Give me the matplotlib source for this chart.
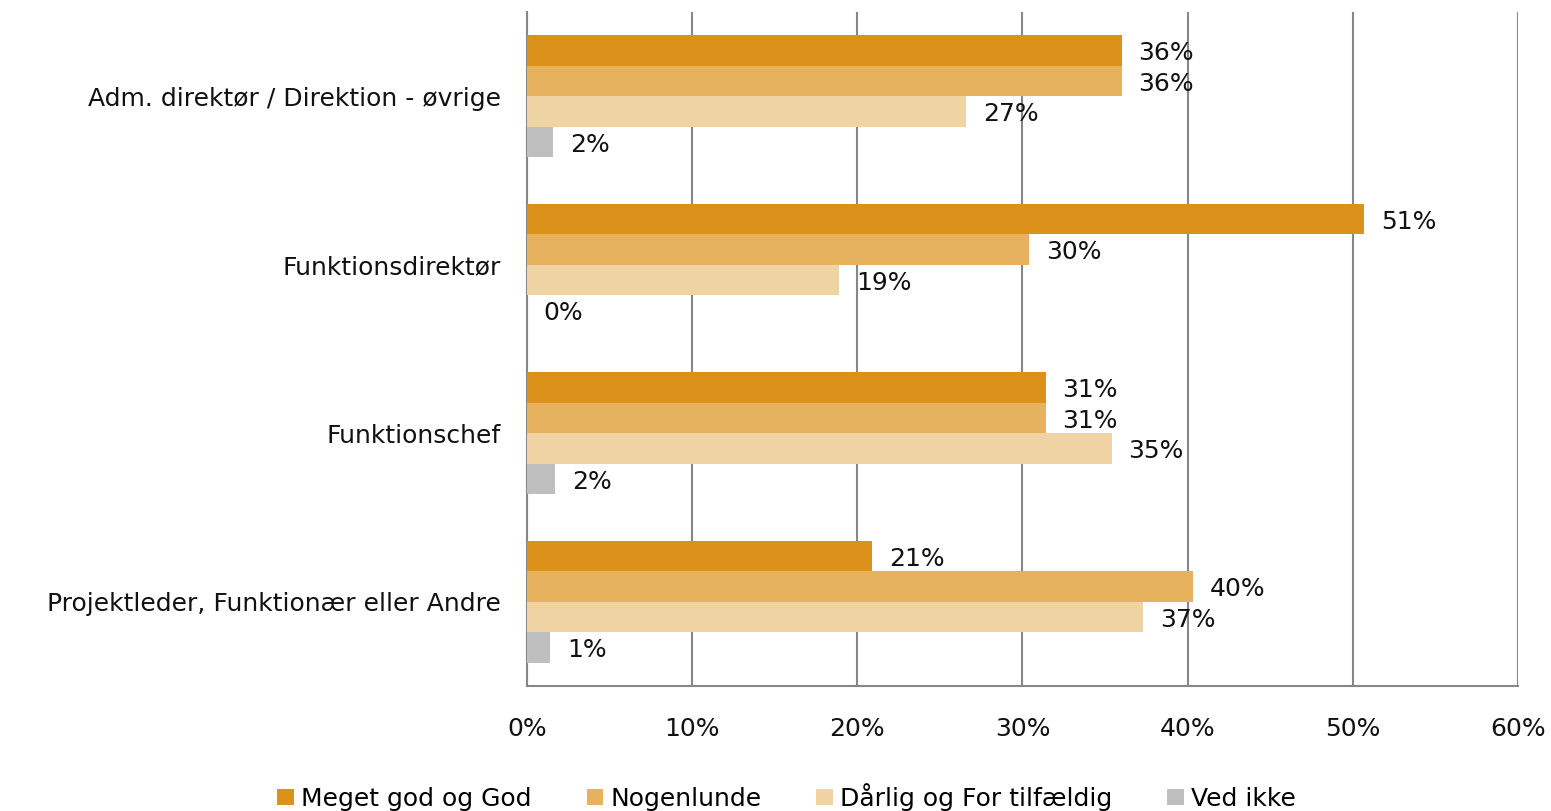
import matplotlib.pyplot as plt
import numpy as np

# survey answers per role, share in %
roles = ['Adm. direktør / Direktion - øvrige', 'Funktionsdirektør',
         'Funktionschef', 'Projektleder, Funktionær eller Andre']
series = ['Meget god og God', 'Nogenlunde', 'Dårlig og For tilfældig', 'Ved ikke']
meget_god = [36.0, 50.7, 31.4, 20.9]
nogenlunde = [36.0, 30.4, 31.4, 40.3]
daarlig = [26.6, 18.9, 35.4, 37.3]
ved_ikke = [1.6, 0.0, 1.7, 1.4]
colors = ['#DC911B', '#E6B25E', '#F0D3A4', '#BFBFBF']

values = [meget_god, nogenlunde, daarlig, ved_ikke]

plt.rcParams['font.family'] = ['DejaVu Sans']
fs = 18
fig = plt.figure(figsize=(15.51, 8.11), dpi=100)
ax = fig.add_axes([0.3398, 0.154, 0.9787 - 0.3398, 0.985 - 0.154])

bar_h = 0.181
y = np.arange(len(roles))
for k, (vals, c, name) in enumerate(zip(values, colors, series)):
    pos = y - 1.5 * bar_h + k * bar_h
    ax.barh(pos, vals, height=bar_h, color=c, label=name, zorder=3)
    for p, v in zip(pos, vals):
        ax.annotate(f'{v:.0f}%', (v, p), xytext=(12, -2), textcoords='offset points',
                    va='center', ha='left', fontsize=fs, color='#111111')

ax.set_ylim(len(roles) - 0.5, -0.5)
ax.set_xlim(0, 60)
ax.set_xticks(np.arange(0, 61, 10))
ax.set_xticklabels([f'{t}%' for t in range(0, 61, 10)], fontsize=fs)
ax.set_yticks(y)
ax.set_yticklabels(roles, fontsize=fs)
ax.tick_params(axis='x', length=0, pad=22, colors='#111111')
ax.tick_params(axis='y', length=0, pad=19, colors='#111111')
ax.grid(axis='x', color='#878787', linewidth=1.5, zorder=0)
for s in ['top', 'right']:
    ax.spines[s].set_visible(False)
for s in ['left', 'bottom']:
    ax.spines[s].set_color('#878787')
    ax.spines[s].set_linewidth(1.5)

ax.legend(loc='upper center', bbox_to_anchor=(0.262, -0.11), ncol=4, frameon=False,
          fontsize=fs, handlelength=0.65, handleheight=0.65, handletextpad=0.3,
          columnspacing=2.2)

fig.savefig('out.png', dpi=100)
